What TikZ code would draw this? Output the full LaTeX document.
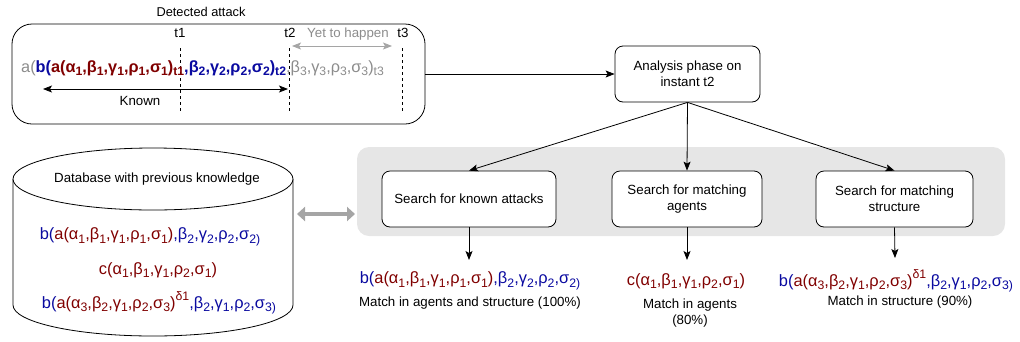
\documentclass[tikz,border=0pt]{standalone}
\usepackage{fontspec}
\usepackage{graphicx}
\setmainfont{Liberation Sans}
\usetikzlibrary{arrows.meta}
\definecolor{dred}{RGB}{128,0,0}
\definecolor{dblue}{RGB}{10,10,160}
\definecolor{ltxt}{RGB}{140,140,140}
\definecolor{bggray}{RGB}{230,230,230}
\definecolor{arrgray}{RGB}{165,165,165}
\newcommand{\lo}[1]{\raisebox{-0.4ex}{\scalebox{0.75}{#1}}}
\newcommand{\hi}[1]{\raisebox{0.9ex}{\scalebox{0.75}{#1}}}
\begin{document}
\begin{tikzpicture}[x=1pt,y=-1pt,
  lbl/.style={font=\fontsize{13.3}{16}\selectfont, align=center, inner sep=0pt},
  fm/.style={font=\fontsize{16.4}{18}\selectfont, inner sep=0pt},
  boxs/.style={draw, line width=0.8pt, rounded corners=8pt, fill=white, align=center, font=\fontsize{13.3}{16}\selectfont},
  arr/.style={line width=0.8pt, -{Stealth[length=9pt,width=7pt,inset=2pt]}},
  darr/.style={line width=0.8pt, {Stealth[length=9pt,width=7pt,inset=2pt]}-{Stealth[length=9pt,width=7pt,inset=2pt]}},
  tline/.style={line width=0.8pt, dash pattern=on 3pt off 3pt}
]
\useasboundingbox (0,0) rectangle (1020,341);

% top: detected attack
\node[lbl, font=\fontsize{12.8}{15}\selectfont] (dettitle) at (201,12) {Detected attack};
\node[draw, line width=0.8pt, rounded corners=20pt, minimum width=413pt, minimum height=100pt, inner sep=0pt] (attack) at (218.5,74) {};

\node[lbl] (t1) at (180,33) {t1};
\node[lbl] (t2) at (290,33) {t2};
\node[lbl] (t3) at (403,33) {t3};
\coordinate (t1a) at (180,48); \coordinate (t1b) at (180,113);
\coordinate (t2a) at (289,48); \coordinate (t2b) at (289,113);
\coordinate (t3a) at (402,48); \coordinate (t3b) at (402,113);
\draw[tline] (t1a) -- (t1b);
\draw[tline] (t2a) -- (t2b);
\draw[tline] (t3a) -- (t3b);

\node[lbl, text=ltxt] (yet) at (348,34) {Yet to happen};
\coordinate (ya) at (292,46); \coordinate (yb) at (392,46);
\draw[darr, arrgray] (ya) -- (yb);

\node[fm, font=\fontsize{16.3}{18}\selectfont, anchor=base west] (seq) at (21,72) {{\color{ltxt}a(}{\bfseries\color{dblue}b(}{\bfseries\color{dred}a(α\lo{1},β\lo{1},γ\lo{1},ρ\lo{1},σ\lo{1})\lo{t1}}{\bfseries\color{dblue},β\lo{2},γ\lo{2},ρ\lo{2},σ\lo{2})\lo{t2}}{\color{ltxt},β\lo{3},γ\lo{3},ρ\lo{3},σ\lo{3})\lo{t3}}};

\coordinate (ka) at (43,89); \coordinate (kb) at (288,89);
\draw[darr] (ka) -- (kb);
\node[lbl] (known) at (140,101) {Known};

% analysis
\node[boxs, minimum width=145pt, minimum height=56pt] (analysis) at (687.5,74) {Analysis phase on\\instant t2};
\draw[arr] (attack.east) -- (analysis.west);

% gray background
\node[fill=bggray, rounded corners=12pt, minimum width=648pt, minimum height=89pt, inner sep=0pt] (bg) at (681,191.5) {};

\node[boxs, minimum width=174pt, minimum height=56pt] (s1) at (469,199) {Search for known attacks};
\node[boxs, minimum width=150pt, minimum height=56pt] (s2) at (687,199) {Search for matching\\agents};
\node[boxs, minimum width=157pt, minimum height=56pt] (s3) at (894.5,199) {Search for matching\\structure};

\draw[arr] (analysis.south) -- (s1.north);
\draw[arr] (analysis.south) -- (s2.north);
\draw[arr] (analysis.south) -- (s3.north);

\coordinate (e1) at (469,260);
\coordinate (e2) at (687,260);
\coordinate (e3) at (895,258);
\draw[arr] (s1.south) -- (e1);
\draw[arr] (s2.south) -- (e2);
\draw[arr] (s3.south) -- (e3);

% results
\node[fm] (r1) at (470,281) {{\color{dblue}b(}{\color{dred}a(α\lo{1},β\lo{1},γ\lo{1},ρ\lo{1},σ\lo{1})}{\color{dblue},β\lo{2},γ\lo{2},ρ\lo{2},σ\lo{2)}}};
\node[lbl] (m1) at (470,303) {Match in agents and structure (100\%)};
\node[fm] (r2) at (686,281) {{\color{dred}c(α\lo{1},β\lo{1},γ\lo{1},ρ\lo{2},σ\lo{1})}};
\node[lbl] (m2) at (690,313.5) {Match in agents\\(80\%)};
\node[fm] (r3) at (896,281) {{\color{dblue}b(}{\color{dred}a(α\lo{3},β\lo{2},γ\lo{1},ρ\lo{2},σ\lo{3})\hi{δ1}}{\color{dblue},β\lo{2},γ\lo{1},ρ\lo{2},σ\lo{3)}}};
\node[lbl] (m3) at (900,302) {Match in structure (90\%)};

% database cylinder
\draw[line width=0.8pt, fill=white] (13,179) -- (13,305) arc[start angle=180, end angle=360, x radius=140pt, y radius=31pt] -- (293,179);
\draw[line width=0.8pt, fill=white] (153,179) ellipse [x radius=140pt, y radius=31pt];
\node[lbl] (dbt) at (157,179) {Database with previous knowledge};
\node[fm] (d1) at (150,237) {{\color{dblue}b(}{\color{dred}a(α\lo{1},β\lo{1},γ\lo{1},ρ\lo{1},σ\lo{1})}{\color{dblue},β\lo{2},γ\lo{2},ρ\lo{2},σ\lo{2)}}};
\node[fm] (d2) at (158,270) {{\color{dred}c(α\lo{1},β\lo{1},γ\lo{1},ρ\lo{2},σ\lo{1})}};
\node[fm] (d3) at (159,303) {{\color{dblue}b(}{\color{dred}a(α\lo{3},β\lo{2},γ\lo{1},ρ\lo{2},σ\lo{3})\hi{δ1}}{\color{dblue},β\lo{2},γ\lo{1},ρ\lo{2},σ\lo{3)}}};

\coordinate (dbE) at (297,214);
\coordinate (bgW) at (355,214);
\draw[line width=3.5pt, arrgray, {Triangle[length=8pt,width=14pt]}-{Triangle[length=8pt,width=14pt]}] (dbE) -- (bgW);
\end{tikzpicture}
\end{document}
